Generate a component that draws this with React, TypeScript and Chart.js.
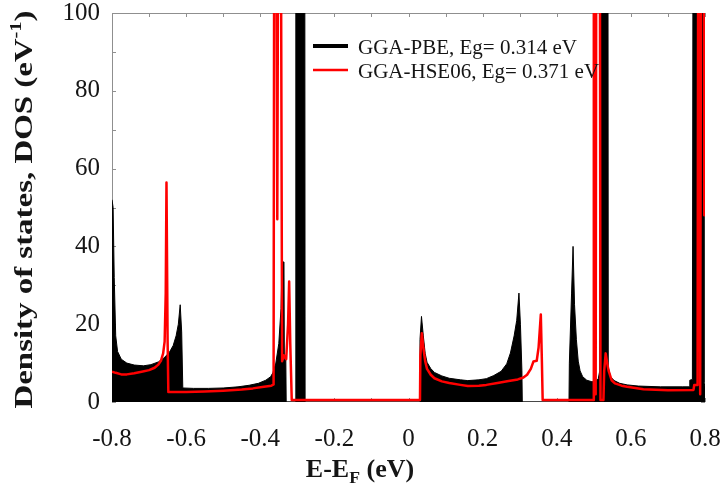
import { useEffect, useRef } from 'react';
import { Chart, registerables } from 'chart.js';

Chart.register(...registerables);

// Density of states, GGA-PBE (filled black)
const pbeEnergy = [
  -0.800, -0.797, -0.794, -0.790, -0.785, -0.775, -0.760, -0.740, -0.715, -0.695, -0.675, -0.660, -0.645, -0.635, -0.627, -0.621, -0.616, -0.612, -0.609,
  -0.580, -0.540, -0.500, -0.460, -0.430, -0.405, -0.385, -0.372, -0.366, -0.358, -0.350, -0.344, -0.341, -0.336, -0.335, -0.331, -0.330,
  -0.305, -0.304, -0.280, -0.279,
  0.030, 0.031, 0.035, 0.040, 0.045, 0.050, 0.060, 0.070, 0.090, 0.110, 0.140, 0.160, 0.190, 0.210, 0.230, 0.250, 0.265, 0.275, 0.285, 0.292, 0.298, 0.302, 0.306, 0.307,
  0.433, 0.434, 0.440, 0.444, 0.448, 0.453, 0.458, 0.463, 0.470, 0.481, 0.495, 0.505, 0.512, 0.516, 0.517, 0.538, 0.539, 0.545, 0.555, 0.570, 0.590, 0.620, 0.680, 0.740, 0.757, 0.759, 0.766, 0.768, 0.795, 0.797, 0.800,
];
const pbeDos = [
  52, 50, 32, 17, 13, 11, 10, 9.5, 9.3, 9.6, 10.3, 11.3, 12.8, 14.5, 17, 20, 25, 18, 3.6,
  3.5, 3.5, 3.6, 3.9, 4.3, 4.8, 5.6, 6.5, 7.5, 10, 15, 24, 36, 36, 11, 11, 0,
  0, 150, 150, 0,
  0, 16, 22, 17, 12.5, 10.2, 8.6, 7.6, 6.7, 6.1, 5.7, 5.5, 5.7, 6.0, 6.8, 7.9, 9.8, 12.6, 17, 21, 28, 20, 8, 0,
  0, 10, 28, 40, 25, 16, 10.5, 8, 6.5, 5.6, 5.2, 5.3, 6, 8, 150, 150, 9, 6.5, 5.5, 4.8, 4.4, 4.1, 3.9, 3.9, 3.9, 5.6, 5.8, 150, 150, 5, 4,
];

// Density of states, GGA-HSE06 (red line)
const hseEnergy = [
  -0.800, -0.790, -0.775, -0.760, -0.740, -0.720, -0.700, -0.685, -0.675, -0.668, -0.662, -0.658, -0.655, -0.653, -0.650, -0.648,
  -0.600, -0.550, -0.500, -0.450, -0.420, -0.390, -0.370, -0.364, -0.362, -0.357, -0.354, -0.351, -0.345, -0.341, -0.336, -0.330, -0.325, -0.322, -0.319, -0.315,
  0.031, 0.032, 0.036, 0.040, 0.045, 0.050, 0.060, 0.070, 0.090, 0.110, 0.140, 0.160, 0.190, 0.210, 0.240, 0.270, 0.295, 0.310, 0.320, 0.330, 0.337, 0.346, 0.351, 0.357, 0.360, 0.362,
  0.499, 0.500, 0.504, 0.505, 0.507, 0.516, 0.518, 0.526, 0.528, 0.532, 0.536, 0.540, 0.542, 0.548, 0.557, 0.575, 0.590, 0.634, 0.700, 0.769, 0.771, 0.780, 0.782, 0.786, 0.787, 0.789, 0.790, 0.797, 0.798, 0.800,
];
const hseDos = [
  7.8, 7.5, 7.1, 7.1, 7.4, 7.8, 8.2, 8.8, 9.6, 10.6, 12.5, 15.5, 28, 56.4, 16, 2.6,
  2.6, 2.7, 2.9, 3.2, 3.5, 3.9, 4.2, 4.5, 150, 150, 47, 150, 150, 10.5, 12, 11, 20, 31, 15, 0.5,
  0.5, 12, 17.7, 14, 10.5, 8.5, 7, 6.1, 5.3, 4.9, 4.4, 4.1, 4.2, 4.4, 4.9, 5.4, 5.8, 6.3, 7, 8.5, 10.4, 10.6, 14, 22.5, 10, 0.5,
  0.5, 150, 150, 2, 150, 150, 0.5, 0.5, 8, 12.5, 10, 8, 7.4, 5.6, 4.8, 4.2, 3.9, 3.3, 3.0, 3.1, 4.4, 4.4, 150, 150, 2, 2, 150, 150, 48, 48,
];

const seriesLabels = ['GGA-PBE, Eg= 0.314 eV', 'GGA-HSE06, Eg= 0.371 eV'];
const xTickValues = [-0.8, -0.6, -0.4, -0.2, 0, 0.2, 0.4, 0.6, 0.8];
const xTickLabels = ['-0.8', '-0.6', '-0.4', '-0.2', '0', '0.2', '0.4', '0.6', '0.8'];
const yTickValues = [0, 20, 40, 60, 80, 100];
const yTickLabels = ['0', '20', '40', '60', '80', '100'];

const SERIF = '"Liberation Serif", "Times New Roman", Times, serif';
const TEXT = '#151515';

type Run = { text: string; scale?: number; shift?: number };

function measureRuns(ctx: CanvasRenderingContext2D, runs: Run[], size: number, weight: string) {
  let w = 0;
  for (const r of runs) {
    ctx.font = `${weight} ${size * (r.scale ?? 1)}px ${SERIF}`;
    w += ctx.measureText(r.text).width;
  }
  return w;
}

function drawRuns(ctx: CanvasRenderingContext2D, runs: Run[], x: number, y: number, size: number, weight: string) {
  let cx = x;
  for (const r of runs) {
    ctx.font = `${weight} ${size * (r.scale ?? 1)}px ${SERIF}`;
    ctx.fillText(r.text, cx, y - (r.shift ?? 0) * size);
    cx += ctx.measureText(r.text).width;
  }
}

// Frame around the plot with short inward ticks on all four sides
const framePlugin = {
  id: 'frame',
  beforeDatasetsDraw(chart: any) {
    const { ctx, chartArea: a, scales } = chart;
    ctx.save();
    ctx.strokeStyle = '#8f8f8f';
    ctx.lineWidth = 1;
    ctx.strokeRect(a.left + 0.5, a.top + 0.5, a.right - a.left - 1, a.bottom - a.top - 1);
    ctx.beginPath();
    for (let i = 0; i <= 16; i++) {
      const px = Math.round(scales.x.getPixelForValue(-0.8 + i * 0.1)) + 0.5;
      ctx.moveTo(px, a.top);
      ctx.lineTo(px, a.top + 4);
      ctx.moveTo(px, a.bottom);
      ctx.lineTo(px, a.bottom - 4);
    }
    for (let i = 0; i <= 10; i++) {
      const py = Math.round(scales.y.getPixelForValue(i * 10)) + 0.5;
      ctx.moveTo(a.left, py);
      ctx.lineTo(a.left + 4, py);
      ctx.moveTo(a.right, py);
      ctx.lineTo(a.right - 4, py);
    }
    ctx.stroke();
    ctx.restore();
  },
};

// Axis titles (with sub/superscripts) and the in-plot legend
const annotationPlugin = {
  id: 'annotations',
  afterDraw(chart: any) {
    const { ctx, chartArea: a } = chart;
    ctx.save();
    ctx.fillStyle = TEXT;
    ctx.textBaseline = 'alphabetic';
    ctx.textAlign = 'left';

    // x-axis title
    const xRuns: Run[] = [{ text: 'E-E' }, { text: 'F', scale: 0.68, shift: -0.22 }, { text: ' (eV)' }];
    const xSize = 26;
    const xw = measureRuns(ctx, xRuns, xSize, 'bold');
    drawRuns(ctx, xRuns, 360 - xw / 2, 477, xSize, 'bold');

    // y-axis title, rotated
    const yRuns: Run[] = [
      { text: 'Density of states, DOS (eV' },
      { text: '-1', scale: 0.62, shift: 0.42 },
      { text: ')' },
    ];
    const ySize = 26;
    const yw = measureRuns(ctx, yRuns, ySize, 'bold');
    const targetLen = 398;
    ctx.save();
    ctx.translate(32, (a.top + a.bottom) / 2 + 2);
    ctx.rotate(-Math.PI / 2);
    ctx.scale(targetLen / yw, 1);
    drawRuns(ctx, yRuns, -yw / 2, 0, ySize, 'bold');
    ctx.restore();

    // legend
    const sets = chart.data.datasets;
    const rows = [
      { y: 46, width: 4 },
      { y: 70, width: 2.5 },
    ];
    rows.forEach((row, i) => {
      ctx.strokeStyle = sets[i].borderColor;
      ctx.lineWidth = row.width;
      ctx.beginPath();
      ctx.moveTo(313, row.y);
      ctx.lineTo(348, row.y);
      ctx.stroke();
      ctx.font = `21px ${SERIF}`;
      ctx.fillStyle = TEXT;
      ctx.fillText(sets[i].label, 358, row.y + 7.5);
    });
    ctx.restore();
  },
};

export default function App() {
  const canvasRef = useRef<HTMLCanvasElement>(null);

  useEffect(() => {
    const canvas = canvasRef.current;
    if (!canvas) return;
    const tickFont = { family: SERIF, size: 25 };
    const chart = new Chart(canvas, {
      type: 'line',
      data: {
        datasets: [
          {
            label: seriesLabels[0],
            data: pbeEnergy.map((x, i) => ({ x, y: pbeDos[i] })),
            borderColor: '#000000',
            backgroundColor: '#000000',
            borderWidth: 1,
            borderJoinStyle: 'round',
            fill: 'origin',
            pointRadius: 0,
            tension: 0,
            order: 1,
          },
          {
            label: seriesLabels[1],
            data: hseEnergy.map((x, i) => ({ x, y: hseDos[i] })),
            borderColor: '#ff0000',
            backgroundColor: '#ff0000',
            borderWidth: 2.5,
            borderJoinStyle: 'round',
            fill: false,
            pointRadius: 0,
            tension: 0,
            order: 0,
          },
        ],
      },
      options: {
        animation: false,
        responsive: false,
        devicePixelRatio: 1,
        layout: { padding: { left: 0, top: 13, right: 19, bottom: 0 } },
        plugins: {
          legend: { display: false },
          tooltip: { enabled: false },
        },
        scales: {
          x: {
            type: 'linear',
            min: -0.8,
            max: 0.8,
            grid: { display: false, drawTicks: false },
            border: { display: false },
            afterBuildTicks: (scale: any) => {
              scale.ticks = xTickValues.map((value) => ({ value }));
            },
            ticks: {
              font: tickFont,
              color: TEXT,
              padding: 22,
              maxRotation: 0,
              autoSkip: false,
              callback: (value: any) => {
                const i = xTickValues.findIndex((v) => Math.abs(v - Number(value)) < 1e-6);
                return i >= 0 ? xTickLabels[i] : '';
              },
            },
            afterFit: (scale: any) => {
              scale.height = 87;
              scale.paddingLeft = 0;
              scale.paddingRight = 0;
            },
          },
          y: {
            type: 'linear',
            min: 0,
            max: 100,
            grid: { display: false, drawTicks: false },
            border: { display: false },
            afterBuildTicks: (scale: any) => {
              scale.ticks = yTickValues.map((value) => ({ value }));
            },
            ticks: {
              font: tickFont,
              color: TEXT,
              padding: 12,
              callback: (value: any) => {
                const i = yTickValues.indexOf(Number(value));
                return i >= 0 ? yTickLabels[i] : '';
              },
            },
            afterFit: (scale: any) => {
              scale.width = 112;
              scale.paddingTop = 0;
              scale.paddingBottom = 0;
            },
          },
        },
      } as any,
      plugins: [framePlugin, annotationPlugin],
    });
    return () => chart.destroy();
  }, []);

  return (
    <div style={{ position: 'absolute', left: 0, top: 0, width: 724, height: 489, background: '#ffffff' }}>
      <canvas ref={canvasRef} width={724} height={489} style={{ display: 'block', width: 724, height: 489 }} />
    </div>
  );
}
